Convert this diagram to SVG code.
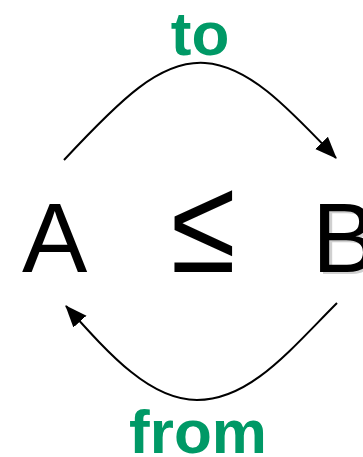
<svg xmlns="http://www.w3.org/2000/svg" width="363" height="457" viewBox="0 0 363 457">
<style>
.lbl{font-family:"Liberation Sans",Arial,sans-serif;font-weight:bold;fill:#009966;text-anchor:middle}
.big{font-family:"Liberation Sans",Arial,sans-serif;fill:#000}
.edge{fill:none;stroke:#000;stroke-width:2}
</style>
<defs>
<marker id="ah2" viewBox="0 0 20 20" refX="19" refY="10" markerWidth="22" markerHeight="22" markerUnits="userSpaceOnUse" orient="auto">
<path d="M0,2 L20,10 L0,18 z" fill="#000"/>
</marker>
</defs>
<g id="connectors">
<path class="edge" d="M64,160 C120,100 160,60 205,63 C250,66 290,110 336,158" marker-end="url(#ah2)"/>
<path class="edge" d="M337,303 C290,350 250,400 197,400 C150,400 110,355 66,306" marker-end="url(#ah2)"/>
</g>
<g id="label-to"><text class="lbl" x="200" y="55" font-size="62">to</text></g>
<g id="label-from"><text class="lbl" x="198" y="453" font-size="62">from</text></g>
<g id="node-A"><text class="big" x="22" y="272" font-size="98">A</text></g>
<g id="node-leq"><text class="big" transform="translate(171,272) scale(0.87,1)" x="0" y="0" font-size="136">≤</text></g>
<g id="node-B">
<text x="315" y="274" font-size="98" font-family="Liberation Sans,Arial,sans-serif" fill="#d0d0d0">B</text>
<text class="big" x="312" y="272" font-size="98">B</text>
</g>
</svg>
